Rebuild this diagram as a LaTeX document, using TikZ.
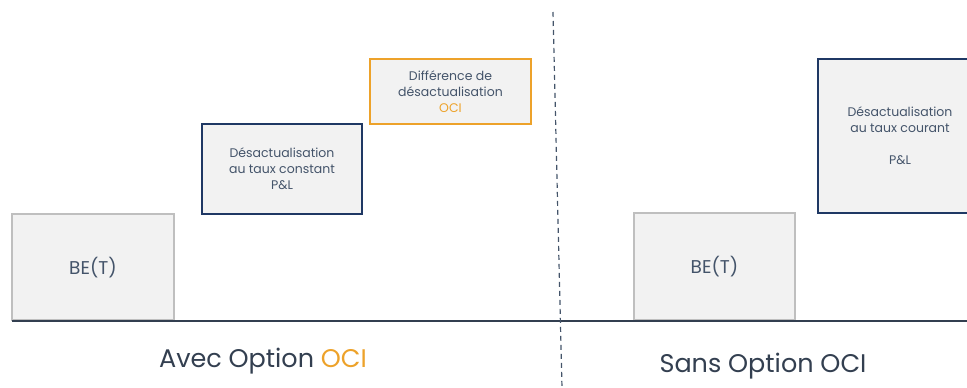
\documentclass[tikz,border=0pt]{standalone}
\usepackage{fontspec}
\setmainfont{Poppins}
\definecolor{navy}{HTML}{1F3864}
\definecolor{slate}{HTML}{44546A}
\definecolor{dark}{HTML}{333F50}
\definecolor{orng}{HTML}{EDA22A}
\definecolor{boxgray}{HTML}{F2F2F2}
\definecolor{bordergray}{HTML}{BFBFBF}
\begin{document}
\begin{tikzpicture}[x=1pt,y=-1pt,
  box/.style={fill=boxgray, line width=1.8pt, inner sep=0pt, outer sep=0pt},
  txt/.style={text=slate, font=\fontsize{12.5}{16}\selectfont, align=center},
  big/.style={text=slate, font=\fontsize{18.5}{20}\selectfont},
  label/.style={text=dark, font=\fontsize{25.5}{27}\selectfont}]
\useasboundingbox (0,0) rectangle (967,388);
\begin{scope}
\clip (0,0) rectangle (967,388);
% left side
\draw[box, draw=bordergray] (12,214) rectangle (174,320);
\node[big] (be1) at (93,268) {BE(T)};
\draw[box, draw=navy] (202,124) rectangle (362,214);
\node[txt] (d1) at (282,169) {Désactualisation\\au taux constant\\P\&L};
\draw[box, draw=orng] (370,59) rectangle (531,124);
\node[txt] (d2) at (450.5,91.5) {Différence de\\désactualisation\\\textcolor{orng}{OCI}};
% right side
\draw[box, draw=bordergray] (634,213) rectangle (795,320);
\node[big] (be2) at (714.5,267) {BE(T)};
\draw[box, draw=navy] (818,59) rectangle (982,213);
\node[txt] (d3) at (900,136) {Désactualisation\\au taux courant\\[16pt]P\&L};
% axis
\coordinate (a0) at (12,321);
\coordinate (a1) at (970,321);
\draw[dark, line width=2pt] (a0) -- (a1);
\coordinate (s0) at (553,12);
\coordinate (s1) at (562,388);
\draw[slate, line width=1.2pt, dash pattern=on 5pt off 4pt] (s0) -- (s1);
\node[label] (l1) at (263,361) {Avec Option \textcolor{orng}{OCI}};
\node[label] (l2) at (763,366) {Sans Option OCI};
\end{scope}
\end{tikzpicture}
\end{document}
